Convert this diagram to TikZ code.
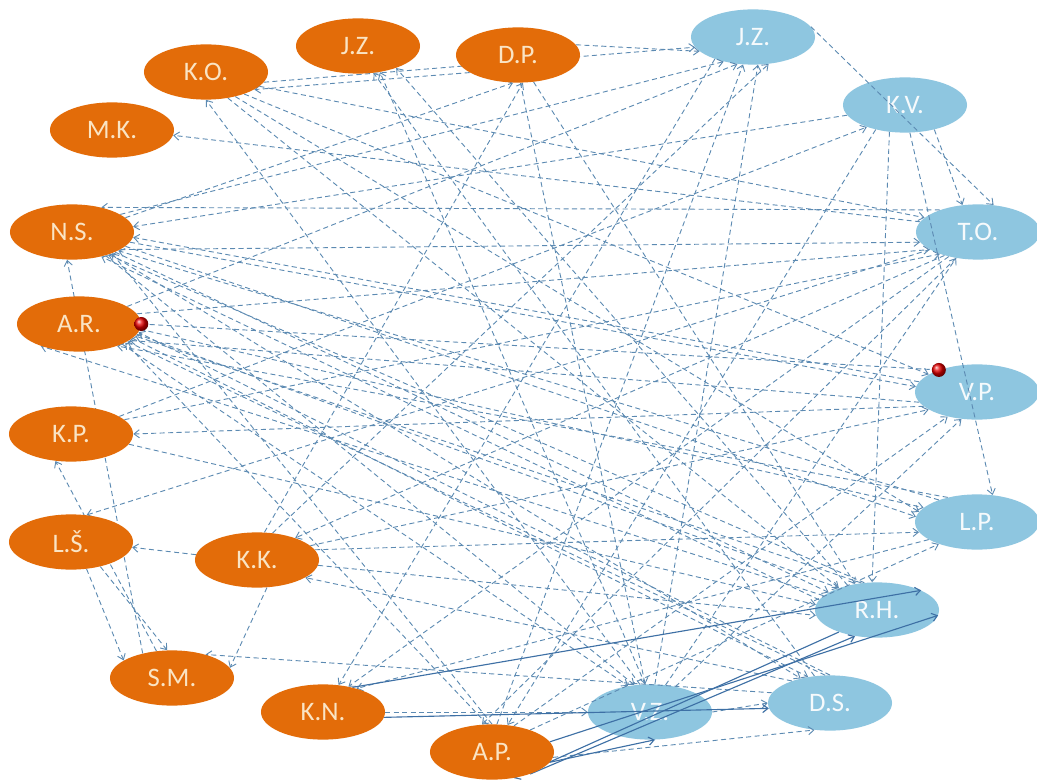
\documentclass[tikz,border=0pt]{standalone}
\usepackage{fontspec}
\setmainfont{Carlito}
\usetikzlibrary{shapes.geometric,arrows.meta}
\definecolor{orng}{RGB}{227,108,9}
\definecolor{lblue}{RGB}{142,198,224}
\definecolor{cream}{RGB}{250,228,196}
\definecolor{linec}{RGB}{92,138,178}
\definecolor{solidc}{RGB}{62,112,165}
\pgfdeclarelayer{backlayer}
\pgfdeclarelayer{bluelayer}
\pgfdeclarelayer{edgelayer}
\pgfsetlayers{backlayer,bluelayer,edgelayer,main}
\tikzset{
  person/.style={ellipse, minimum width=3.1cm, minimum height=1.38cm, inner sep=0pt,
    font=\fontsize{19}{19}\selectfont},
  girl/.style={person, fill=orng, text=cream},
  boy/.style={person, fill=lblue, text=white!92!lblue},
  tip/.style={-{Straight Barb[length=3.8pt,width=5.8pt]}},
  e/.style={draw=linec, line width=0.65pt, dash pattern=on 3.6pt off 2.4pt, tip},
  s/.style={draw=solidc, line width=0.8pt, tip},
}
\begin{document}
\begin{tikzpicture}[x=0.025cm,y=-0.025cm]
\useasboundingbox (0,0) rectangle (1037,780);
\begin{pgfonlayer}{backlayer}
\fill[white] (0,0) rectangle (1037,780);
\end{pgfonlayer}

% orange group
\node[girl] (ko) at (206,72)  {K.O.};
\node[girl] (jz) at (358,46)  {J.Z.};
\node[girl] (dp) at (518,55)  {D.P.};
\node[girl] (mk) at (112,130) {M.K.};
\node[girl] (ns) at (72,232)  {N.S.};
\node[girl] (ar) at (79,324)  {A.R.};
\node[girl] (kp) at (71,434)  {K.P.};
\node[girl] (ls) at (71,542)  {L.Š.};
\node[girl] (kk) at (257,560) {K.K.};
\node[girl] (sm) at (172,678) {S.M.};
\node[girl] (kn) at (323,712) {K.N.};
\node[girl] (ap) at (492,752) {A.P.};

% blue group
\begin{pgfonlayer}{bluelayer}
\node[boy] (iz) at (753,37)  {J.Z.};
\node[boy] (kv) at (905,105) {K.V.};
\node[boy] (to) at (978,232) {T.O.};
\node[boy] (vp) at (977,392) {V.P.};
\node[boy] (lp) at (977,522) {L.P.};
\node[boy] (rh) at (877,610) {R.H.};
\node[boy] (ds) at (830,703) {D.S.};
\node[boy] (vz) at (650,712) {V.Z.};
\end{pgfonlayer}

\begin{pgfonlayer}{edgelayer}
% top of the network
\draw[e] (dp.10) -- (iz.195);
\draw[e] (dp.200) -- (ko.-20);
\draw[e] (iz.10) -- (to.60);
\draw[e] (kv.-120) -- (rh.100);
\draw[e] (kv.-80) -- (lp.60);
\draw[e] (kv.-40) -- (to.120);
\draw[e] (dp.-60) -- (rh.130);
\draw[e] (dp.-85) -- (vz.100);
\draw[e] (ap.80) -- (iz.-110);
\draw[e] (iz.-150) -- (kn.60);
\draw[e] (kk.60) -- (iz.-60);
\draw[e] (ko.-10) -- (iz.-170);
\draw[e] (ns.20) -- (iz.-140);
\draw[e] (ns.15) -- (dp.-100);
\draw[e] (to.150) -- (ns.40);
\draw[e] (ns.-20) -- (to.190);
\draw[e] (kv.190) -- (ns.5);
\draw[e] (to.170) -- (mk.-5);
\draw[e] (vz.110) -- (ko.-90);
\draw[e] (ko.-15) -- (to.165);
\draw[e] (ko.-30) -- (vp.160);
\draw[e] (ko.-40) -- (lp.170);
\draw[e] (ko.-50) -- (rh.150);
\draw[e] (ds.120) -- (jz.-60);
\draw[e] (vz.100) -- (jz.-50);
\draw[e] (rh.140) -- (jz.-30);
% left column
\draw[e] (sm.140) -- (ns.-100);
\draw[e] (sm.120) -- (kp.-120);
\draw[e] (ls.-60) -- (sm.160);
\draw[e] (ls.-40) -- (sm.100);
\draw[e] (kk.175) -- (ls.-5);
\draw[e] (kk.-70) -- (sm.10);
\draw[e] (ds.170) -- (sm.35);
\draw[e] (vp.195) -- (kp.0);
\draw[e] (ar.0) -- (vp.150);
\draw[e] (rh.165) -- (ar.-150);
\draw[e] (to.200) -- (ls.60);
% fans from N.S. and A.R.
\draw[e] (ns.-25) -- (rh.160);
\draw[e] (ns.-15) -- (lp.175);
\draw[e] (ns.-10) -- (vp.175);
\draw[e] (ns.-30) -- (ds.140);
\draw[e] (ns.-35) -- (vz.120);
\draw[e] (rh.170) -- (ns.-40);
\draw[e] (vp.170) -- (ns.-5);
\draw[e] (ap.90) -- (ns.-28);
\draw[e] (rh.115) -- (ns.-32);
\draw[e] (lp.150) -- (ns.-22);
\draw[e] (ar.-10) -- (rh.150);
\draw[e] (ar.-5) -- (lp.165);
\draw[e] (ar.-15) -- (ds.130);
\draw[e] (ar.10) -- (to.200);
\draw[e] (ar.20) -- (iz.-120);
\draw[e] (ar.-25) -- (vz.130);
\draw[e] (ds.100) -- (ar.-20);
\draw[e] (lp.140) -- (ar.-30);
\draw[e] (rh.120) -- (ar.-12);
\draw[e] (ds.90) -- (ar.-8);
\draw[e] (ap.100) -- (ar.-22);
\draw[e] (vp.190) -- (ar.-18);
% K.P. and K.K.
\draw[e] (kp.20) -- (kv.210);
\draw[e] (kp.15) -- (to.210);
\draw[e] (kp.-10) -- (rh.175);
\draw[e] (kk.-5) -- (rh.185);
\draw[e] (kk.10) -- (lp.190);
\draw[e] (to.215) -- (kk.30);
\draw[e] (ds.150) -- (kk.-20);
\draw[e] (kk.75) -- (dp.-80);
\draw[e] (kk.15) -- (vp.200);
% bottom of the network
\draw[e] (lp.200) -- (kn.35);
\draw[e] (kn.0) -- (vz.180);
\draw[e] (to.220) -- (kn.45);
\draw[e] (kv.-140) -- (ap.60);
\draw[e] (to.230) -- (ap.110);
\draw[e] (ap.50) -- (vp.-140);
\draw[e] (ap.30) -- (lp.-150);
\draw[e] (ap.-5) -- (ds.-120);
\draw[e] (vz.0) -- (ds.180);
\draw[e] (vz.45) -- (vp.-120);
\draw[e] (vz.60) -- (to.-130);
\draw[e] (vz.80) -- (iz.-80);
% solid ties
\draw[s] (kn.40) -- (rh.24);
\draw[s] (ap.10) -- (rh.-5);
\draw[s] (ap.-30) -- (rh.-130);
\draw[s] (ap.-10) -- (vz.-80);
\draw[s] (kn.-5) -- (ds.185);
\draw[s] (rh.-150) -- (ap.-50);
\end{pgfonlayer}

% markers
\shade[ball color=red!90!black] (ar.east) circle (7);
\shade[ball color=red!90!black] (vp.150) circle (7);
\end{tikzpicture}
\end{document}
